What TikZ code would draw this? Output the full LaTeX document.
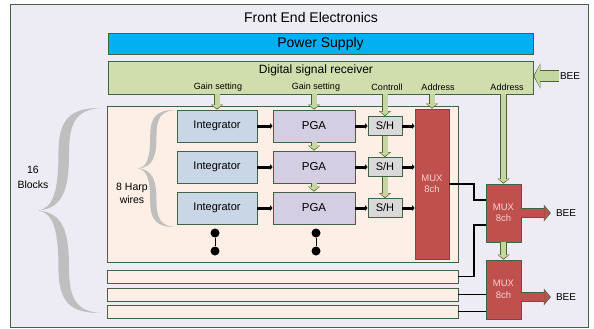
\documentclass[tikz,border=0pt]{standalone}
\usepackage{fontspec}
\setmainfont{Liberation Sans}
\usetikzlibrary{arrows.meta}

\definecolor{feline}{RGB}{64,98,70}
\definecolor{feback}{RGB}{237,235,243}
\definecolor{pwrblue}{RGB}{0,176,240}
\definecolor{dsrgreen}{RGB}{208,222,173}
\definecolor{blkpeach}{RGB}{253,239,229}
\definecolor{intblue}{RGB}{200,214,229}
\definecolor{pgalilac}{RGB}{213,205,225}
\definecolor{shgray}{RGB}{217,217,217}
\definecolor{muxred}{RGB}{192,80,77}
\definecolor{muxtext}{RGB}{245,212,206}
\definecolor{arrgreen}{RGB}{196,215,160}
\definecolor{arrdark}{RGB}{79,98,40}
\definecolor{bracegray}{RGB}{191,191,191}

\tikzset{
  garrow/.style={draw=arrdark, line width=6.5pt,
    -{Triangle[length=5pt,width=12pt,line width=0pt]},
    postaction={draw=arrgreen, line width=5pt, shorten >=1.1pt,
      -{Triangle[length=3.5pt,width=9.8pt,line width=0pt]}}},
  inarrow/.style={draw=arrdark, line width=11pt,
    -{Triangle[length=7pt,width=25pt,line width=0pt]},
    postaction={draw=arrgreen, line width=9.5pt, shorten >=1pt,
      -{Triangle[length=5.4pt,width=21.6pt,line width=0pt]}}},
  redarrow/.style={draw=feline, line width=9.5pt,
    -{Triangle[length=7pt,width=17pt,line width=0pt]},
    postaction={draw=muxred, line width=8pt, shorten >=1.1pt,
      -{Triangle[length=5.3pt,width=14.2pt,line width=0pt]}}},
  sig/.style={line width=3pt, -{Triangle[length=2.5pt,width=5.5pt,line width=0pt]}},
  wire/.style={line width=1.8pt},
  mux/.style={fill=muxred, text=muxtext, minimum width=34pt, align=center,
    font=\fontsize{9.5}{11.5}\selectfont},
  lbl/.style={font=\fontsize{9}{10}\selectfont, inner sep=1pt},
  dot/.style={circle, fill=black, minimum size=9pt, inner sep=0pt},
  pics/hbrace/.style={code={
    \fill[bracegray] (1,0) .. controls (0.5,0) and (0.33,0.06) .. (0.33,0.22)
      .. controls (0.33,0.4) and (0.25,0.49) .. (0,0.5)
      .. controls (0.25,0.51) and (0.33,0.6) .. (0.33,0.78)
      .. controls (0.33,0.94) and (0.5,1) .. (1,1)
      .. controls (0.62,0.99) and (0.5,0.93) .. (0.5,0.78)
      .. controls (0.5,0.6) and (0.4,0.51) .. (0,0.5)
      .. controls (0.4,0.49) and (0.5,0.4) .. (0.5,0.22)
      .. controls (0.5,0.07) and (0.62,0.01) .. (1,0) -- cycle;
  }}
}

\begin{document}
\begin{tikzpicture}[x=1pt,y=-1pt]
\useasboundingbox (0,0) rectangle (594,329);
\node[draw=feline, fill=feback, line width=0.8pt, inner sep=0pt,
      minimum width=578pt, minimum height=323pt] (FEE) at (299,165.5) {};
\node[font=\fontsize{14}{16}\selectfont] (title) at (311,17) {Front End Electronics};

\begin{scope}[every node/.style={draw=feline, line width=0.7pt, inner sep=0pt}]
    \node[fill=pwrblue, minimum width=425pt, minimum height=21pt,
          font=\fontsize{14}{16}\selectfont] (PS) at (320.5,43.5) {Power Supply};
    \node[fill=dsrgreen, minimum width=425pt, minimum height=33pt] (DSR) at (320.5,77.5) {};
    \node[fill=blkpeach, minimum width=351pt, minimum height=156pt] (BLK) at (282.5,184) {};
    \foreach \i/\y in {1/276.5,2/294.5,3/311.5}
      \node[fill=blkpeach, minimum width=351pt, minimum height=13pt] (S\i) at (282.5,\y) {};
    \foreach \i/\y in {1/126,2/167,3/208} {
      \node[fill=intblue, minimum width=80pt, minimum height=32pt,
            font=\fontsize{11}{13}\selectfont] (I\i) at (217,\y) {Integrator};
      \node[fill=pgalilac, minimum width=82pt, minimum height=32pt,
            font=\fontsize{11.5}{13}\selectfont] (P\i) at (314,\y) {PGA};
      \node[fill=shgray, minimum width=34pt, minimum height=19pt,
            font=\fontsize{11}{13}\selectfont] (H\i) at (385,\y) {S/H};
    }
    \node[mux, minimum height=150pt] (M1) at (432,184) {MUX\\8ch};
    \node[mux, minimum width=35pt, minimum height=58pt] (M2) at (503.5,213) {MUX\\8ch};
    \node[mux, minimum width=35pt, minimum height=59pt] (M3) at (503.5,289.5) {MUX\\8ch};
\end{scope}

% receiver texts
\node[font=\fontsize{12}{14}\selectfont] (dsrtxt) at (316,70) {Digital signal receiver};
\node[lbl] (gain1) at (218,87) {Gain setting};
\node[lbl] (gain2) at (316,87) {Gain setting};
\node[lbl] (ctrl) at (387,87) {Controll};
\node[lbl] (addr1) at (438,87) {Address};
\node[lbl] (addr2) at (507,87) {Address};

% BEE
\begin{scope}[every node/.style={font=\fontsize{10}{12}\selectfont, inner sep=1pt}]
    \node (BEEin) at (570,76) {BEE};
    \node[inner sep=5pt] (BEE2) at (566,213) {BEE};
    \node[inner sep=5pt] (BEE3) at (566,297) {BEE};
\end{scope}

% harp wires and blocks
\begin{scope}[shift={(38,108)},x=62pt,y=-205pt]
    \pic {hbrace};
\end{scope}
\begin{scope}[shift={(138,110)},x=37pt,y=-117pt]
    \pic {hbrace};
\end{scope}
\node[align=center, font=\fontsize{10.5}{15}\selectfont] (blocks) at (33,177) {16\\Blocks};
\node[align=center, font=\fontsize{10.5}{13}\selectfont] (harp) at (132,193) {8 Harp\\wires};

\node[dot] (d1) at (215,233) {};
\node[dot] (d2) at (215,251) {};
\node[dot] (d3) at (316,233) {};
\node[dot] (d4) at (316,251) {};
\draw[line width=0.8pt] (d1) -- (d2);
\draw[line width=0.8pt] (d3) -- (d4);

% settings from receiver
\draw[garrow] (I1.north |- DSR.south) -- (I1.north);
\draw[garrow] (P1.north |- DSR.south) -- (P1.north);
\draw[garrow] (H1.north |- DSR.south) -- (H1.north);
\draw[garrow] (M1.north |- DSR.south) -- (M1.north);
\draw[garrow] (M2.north |- DSR.south) -- (M2.north);
\foreach \a/\b in {1/2,2/3} {
    \draw[garrow] (P\a.south) -- (P\b.north);
    \draw[garrow] (H\a.south) -- (H\b.north);
}
\draw[garrow] (M2.south) -- (M3.north);
\draw[inarrow] (BEEin.west) -- (BEEin.west -| DSR.east);

% signal chain
\foreach \i in {1,2,3} {
    \draw[sig] (I\i) -- (P\i);
    \draw[sig] (P\i) -- (H\i);
    \draw[sig] (H\i.east) -- (H\i.east -| M1.west);
}
\draw[wire] (M1.east) -- ++(25,0) |- ([yshift=13pt]M2.west);
\draw[wire] (S1.east) -- ++(16,0) |- ([yshift=-12pt]M2.west);
\draw[wire] (S2.east) -- (S2.east -| M3.west);
\draw[wire] (S3.east) -- (S3.east -| M3.west);

% to BEE
\draw[redarrow] (M2.east) -- (M2.east -| BEE2.west);
\draw[redarrow] (M3.east |- BEE3.west) -- (BEE3.west);
\end{tikzpicture}
\end{document}
